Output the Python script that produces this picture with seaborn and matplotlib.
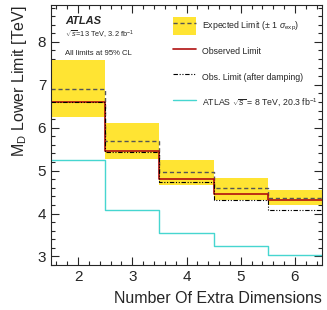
import numpy as np
import pandas as pd
import seaborn as sns
import matplotlib.pyplot as plt
from matplotlib.patches import Patch
from matplotlib.lines import Line2D
from matplotlib.ticker import AutoMinorLocator, MultipleLocator

n_dims = [2, 3, 4, 5, 6]
expected = [6.91, 5.68, 4.96, 4.60, 4.36]
exp_up = [7.57, 6.10, 5.25, 4.82, 4.56]
exp_down = [6.26, 5.26, 4.66, 4.32, 4.21]
observed = [6.61, 5.46, 4.80, 4.46, 4.31]
damped = [6.60, 5.44, 4.74, 4.32, 4.09]
atlas_8tev = [5.25, 4.09, 3.54, 3.25, 3.03]

sns.set_style("ticks")
plt.rcParams['font.family'] = ['Liberation Sans', 'DejaVu Sans']
plt.rcParams['mathtext.fontset'] = 'custom'
plt.rcParams['mathtext.rm'] = 'Liberation Sans'
plt.rcParams['mathtext.it'] = 'Liberation Sans:italic'

fig = plt.figure(figsize=(3.27, 3.10), dpi=100)
ax = fig.add_axes([0.156, 0.145, 0.829, 0.839])

# bin edges around each integer n
edges = np.append(np.array(n_dims) - 0.5, n_dims[-1] + 0.5)


def stepped(vals):
    return pd.DataFrame({"x": edges, "y": np.append(vals, vals[-1])})


yellow = "#ffe433"
exp_col = "#555555"
obs_col = "#b01010"
cyan = "#46d6d0"
dashed = (0, (3, 2))
dashdot = (0, (4, 1.5, 1, 1.5, 1, 1.5))

ax.fill_between(edges, np.append(exp_down, exp_down[-1]), np.append(exp_up, exp_up[-1]),
                step="post", color=yellow, lw=0)

sns.lineplot(data=stepped(atlas_8tev), x="x", y="y", ax=ax, color=cyan, lw=1.0,
             drawstyle="steps-post", estimator=None, sort=False)
sns.lineplot(data=stepped(expected), x="x", y="y", ax=ax, color=exp_col, lw=1.0,
             ls=dashed, drawstyle="steps-post", estimator=None, sort=False)
sns.lineplot(data=stepped(observed), x="x", y="y", ax=ax, color=obs_col, lw=1.2,
             drawstyle="steps-post", estimator=None, sort=False)
sns.lineplot(data=stepped(damped), x="x", y="y", ax=ax, color="black", lw=0.8,
             ls=dashdot, drawstyle="steps-post", estimator=None, sort=False)

ax.set_xlim(1.5, 6.5)
ax.set_ylim(2.8, 8.86)
ax.xaxis.set_major_locator(MultipleLocator(1))
ax.xaxis.set_minor_locator(AutoMinorLocator(5))
ax.yaxis.set_major_locator(MultipleLocator(1))
ax.yaxis.set_minor_locator(AutoMinorLocator(5))
ax.tick_params(which="both", direction="in", top=True, right=True, labelsize=11, width=0.8)
ax.tick_params(which="major", length=6)
ax.tick_params(which="minor", length=3)
for s in ax.spines.values():
    s.set_linewidth(0.8)

ax.set_xlabel("Number Of Extra Dimensions", fontsize=11.5, loc="right", labelpad=5)
ax.set_ylabel(r"M$_{\rm D}$ Lower Limit [TeV]", fontsize=11.5, loc="top", labelpad=6)

ax.text(0.052, 0.94, "ATLAS", transform=ax.transAxes, fontsize=8, fontweight="bold",
        fontstyle="italic", va="center")
ax.text(0.052, 0.885, r"$\sqrt{s}$=13 TeV, 3.2 fb$^{-1}$", transform=ax.transAxes,
        fontsize=5.3, va="center")
ax.text(0.052, 0.815, "All limits at 95% CL", transform=ax.transAxes, fontsize=5.6, va="center")

handles = [
    (Patch(facecolor=yellow, edgecolor="none"), Line2D([], [], color=exp_col, lw=1.0, ls=dashed)),
    Line2D([], [], color=obs_col, lw=1.2),
    Line2D([], [], color="black", lw=0.8, ls=dashdot),
    Line2D([], [], color=cyan, lw=1.0),
]
labels = [
    r"Expected Limit ($\pm$ 1 $\sigma_{\rm exp}$)",
    "Observed Limit",
    "Obs. Limit (after damping)",
    r"ATLAS $\sqrt{s}$ = 8 TeV, 20.3 fb$^{-1}$",
]
ax.legend(handles, labels, loc="upper left", bbox_to_anchor=(0.45, 0.953), frameon=False,
          fontsize=6.3, handlelength=2.6, handleheight=2.8, labelspacing=0.85,
          handletextpad=0.7, borderaxespad=0.0, borderpad=0.0)

fig.savefig("out.png", dpi=100)
